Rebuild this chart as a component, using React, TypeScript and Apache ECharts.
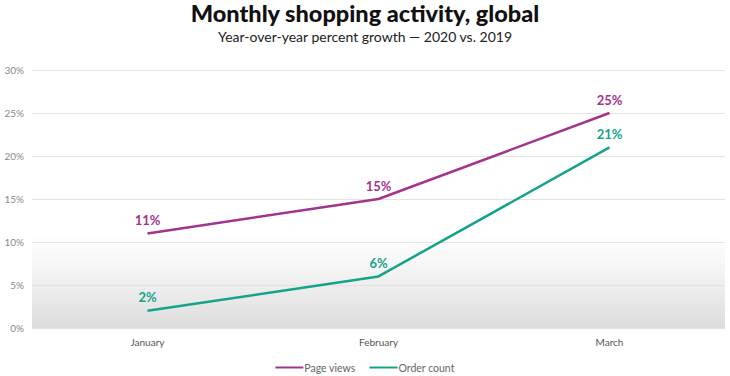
import React, { useEffect, useRef } from "react";
import * as echarts from "echarts";

const months = ["January", "February", "March"];
const pageViews = [11, 15, 25];
const orderCount = [2, 6, 21];
const seriesNames = ["Page views", "Order count"];

export default function App() {
  const ref = useRef<HTMLDivElement>(null);
  useEffect(() => {
    if (!ref.current) return;
    const chart = echarts.init(ref.current, null, { renderer: "svg" });
    const purple = "#a3348c";
    const teal = "#14a38b";
    const mkLabel = (color: string) => ({
      show: true,
      position: "top",
      distance: 7,
      formatter: "{c}%",
      fontFamily: "Lato",
      fontWeight: "bold",
      fontSize: 13,
      color,
    });
    chart.setOption({
      animation: false,
      backgroundColor: "#ffffff",
      title: {
        text: "Monthly shopping activity, global",
        subtext: "Year-over-year percent growth — 2020 vs. 2019",
        left: "center",
        top: 0,
        padding: [0, 5, 5, 5],
        itemGap: 3,
        textStyle: { fontFamily: "Lato", fontWeight: 900, fontSize: 23.5, lineHeight: 25, color: "#111" },
        subtextStyle: { fontFamily: "Lato", fontSize: 14, lineHeight: 16, color: "#222" },
      },
      grid: { left: 32, right: 5, top: 70, bottom: 48 },
      legend: {
        bottom: -2,
        left: "center",
        itemWidth: 28,
        itemHeight: 2,
        itemGap: 14,
        icon: "rect",
        textStyle: { fontFamily: "Lato", fontSize: 10.5, color: "#666", padding: [0, 0, 0, -4] },
        data: seriesNames,
      },
      xAxis: {
        type: "category",
        data: months,
        boundaryGap: true,
        axisLine: { show: false },
        axisTick: { show: false },
        axisLabel: { fontFamily: "Lato", fontSize: 10, color: "#555", margin: 9 },
      },
      yAxis: {
        type: "value",
        min: 0,
        max: 30,
        interval: 5,
        axisLabel: {
          formatter: "{value}%",
          fontFamily: "Lato",
          fontSize: 10,
          color: "#888",
          margin: 8,
        },
        splitLine: { lineStyle: { color: "#e4e4e4", width: 1 } },
        axisLine: { show: false },
        axisTick: { show: false },
      },
      series: [
        {
          name: seriesNames[0],
          type: "line",
          data: pageViews,
          color: purple,
          symbol: "circle",
          symbolSize: 0,
          showSymbol: true,
          itemStyle: { color: purple },
          lineStyle: { width: 2.5, color: purple },
          label: mkLabel(purple),
          markArea: {
            silent: true,
            itemStyle: {
              color: {
                type: "linear",
                x: 0,
                y: 0,
                x2: 0,
                y2: 1,
                colorStops: [
                  { offset: 0, color: "rgba(230,230,230,0)" },
                  { offset: 1, color: "rgba(220,220,220,1)" },
                ],
              },
            },
            data: [[{ yAxis: 0, x: 32 }, { yAxis: 11, x: 725 }]],
          },
          z: 3,
        },
        {
          name: seriesNames[1],
          type: "line",
          data: orderCount,
          color: teal,
          symbol: "circle",
          symbolSize: 0,
          showSymbol: true,
          itemStyle: { color: teal },
          lineStyle: { width: 2.5, color: teal },
          label: mkLabel(teal),
          z: 3,
        },
      ],
    });
    return () => chart.dispose();
  }, []);
  return <div ref={ref} style={{ width: 730, height: 376, position: "absolute", left: 0, top: 0 }} />;
}
